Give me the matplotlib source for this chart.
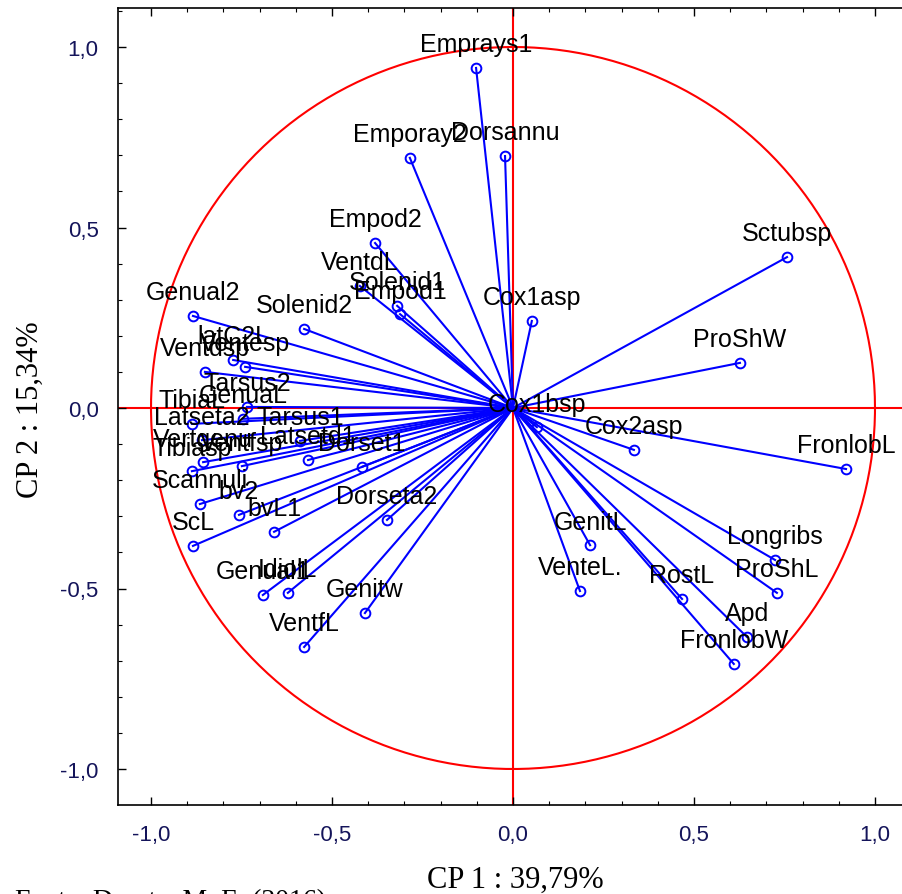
import numpy as np
import matplotlib.pyplot as plt
from matplotlib.ticker import MultipleLocator, FuncFormatter

# variable loadings on CP1 / CP2
names = ['Emprays1', 'Dorsannu', 'Emporay2', 'Empod2', 'VentdL', 'Solenid1', 'Empod1',
         'Cox1asp', 'Solenid2', 'Genual2', 'latC2L', 'Ventesp', 'Ventdsp', 'Tarsus2',
         'GenuaL', 'TibiaL', 'Latseta2', 'Tarsus1', 'Latsetd1', 'Vertgenu', 'Tibiasp',
         'Ventfsp', 'Dorset1', 'Scannuli', 'bv2', 'bvL1', 'ScL', 'Dorseta2', 'Genual1',
         'IdiolL', 'Genitw', 'VentfL', 'Sctubsp', 'ProShW', 'FronlobL', 'Cox2asp',
         'Cox1bsp', 'GenitL', 'VenteL.', 'RostL', 'Longribs', 'ProShL', 'Apd', 'FronlobW']
cp1 = [-0.102, -0.022, -0.285, -0.381, -0.423, -0.320, -0.312,
       0.052, -0.577, -0.884, -0.773, -0.740, -0.851, -0.735,
       -0.746, -0.887, -0.859, -0.588, -0.566, -0.856, -0.887,
       -0.749, -0.417, -0.865, -0.757, -0.660, -0.884, -0.348, -0.691,
       -0.622, -0.409, -0.577, 0.757, 0.627, 0.920, 0.334,
       0.066, 0.213, 0.185, 0.467, 0.724, 0.729, 0.646, 0.610]
cp2 = [0.942, 0.698, 0.693, 0.457, 0.338, 0.283, 0.260,
       0.241, 0.219, 0.255, 0.133, 0.114, 0.100, 0.003,
       -0.030, -0.044, -0.089, -0.091, -0.144, -0.150, -0.175,
       -0.161, -0.163, -0.266, -0.296, -0.343, -0.382, -0.310, -0.518,
       -0.512, -0.568, -0.662, 0.418, 0.125, -0.169, -0.116,
       -0.053, -0.380, -0.507, -0.529, -0.421, -0.512, -0.634, -0.709]

xlabel = 'CP 1 : 39,79%'
ylabel = 'CP 2 : 15,34%'
source = 'Fonte: Duarte, M. E. (2016)'

W, H = 902, 895
fig = plt.figure(figsize=(W / 100, H / 100), dpi=100)
ax = fig.add_axes([118 / W, (H - 806) / H, (915 - 118) / W, (806 - 9) / H])

# unit circle and red axes
t = np.linspace(0, 2 * np.pi, 400)
ax.plot(np.cos(t), np.sin(t), color='red', lw=1.5, zorder=1)
ax.axhline(0, color='red', lw=1.5, zorder=1)
ax.axvline(0, color='red', lw=1.5, zorder=1)

for n, x, y in zip(names, cp1, cp2):
    ax.plot([0, x], [0, y], color='blue', lw=1.5, zorder=2)
    ax.plot(x, y, 'o', ms=7, mfc='none', mec='blue', mew=1.4, zorder=3)
    ax.annotate(n, (x, y), xytext=(0, 17), textcoords='offset points',
                ha='center', va='center', fontsize=18, family='Liberation Sans',
                color='black', zorder=4)

sx = 362.0
ax.set_xlim((118 - 513) / sx, (915 - 513) / sx)
ax.set_ylim(-(806 - 409) / 361.0, (409 - 9) / 361.0)

fmt = FuncFormatter(lambda v, p: f'{v:.1f}'.replace('.', ',').replace('-0,0', '0,0'))
for a in (ax.xaxis, ax.yaxis):
    a.set_major_locator(MultipleLocator(0.5))
    a.set_minor_locator(MultipleLocator(0.1))
    a.set_major_formatter(fmt)
ax.tick_params(which='both', direction='in', top=True, right=True,
               labelsize=16, labelcolor='#14145a')
ax.tick_params(which='major', length=6, width=1)
ax.tick_params(which='minor', length=3, width=0.8)
ax.tick_params(axis='x', pad=14)
ax.tick_params(axis='y', pad=14)
for lbl in ax.get_xticklabels() + ax.get_yticklabels():
    lbl.set_family('Liberation Sans')
for s in ax.spines.values():
    s.set_linewidth(1.2)

fig.text(515 / W, 1 - 880 / H, xlabel, ha='center', va='center',
         family='Liberation Serif', fontsize=22)
fig.text(30 / W, 1 - 410 / H, ylabel, ha='center', va='center', rotation=90,
         family='Liberation Serif', fontsize=22)
fig.text(15 / W, 1 - 889 / H, source, ha='left', va='top',
         family='Liberation Serif', fontsize=20)

fig.savefig('out.png', dpi=100)
